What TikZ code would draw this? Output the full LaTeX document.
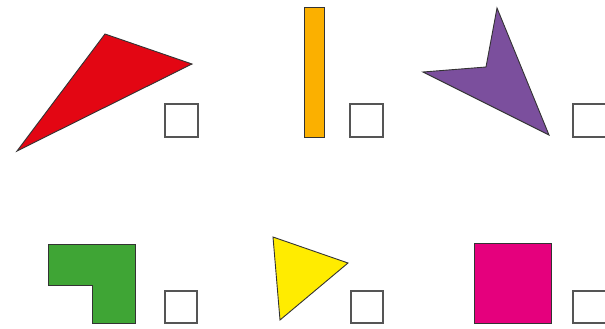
\documentclass[tikz,border=0pt]{standalone}
\definecolor{cred}{HTML}{E30613}
\definecolor{corange}{HTML}{FBB000}
\definecolor{cpurple}{HTML}{7B4F9D}
\definecolor{cgreen}{HTML}{3FA535}
\definecolor{cyellow}{HTML}{FFEC00}
\definecolor{cmagenta}{HTML}{E5007D}
\definecolor{cline}{HTML}{333333}
\definecolor{cbox}{HTML}{555555}
\tikzset{
  shapefill/.style={draw=cline, line width=0.9pt, line join=miter, fill=#1},
  answerbox/.style={draw=cbox, line width=1.3pt, fill=white}
}
\begin{document}
\begin{tikzpicture}[x=1pt,y=-1pt]
\useasboundingbox (0,0) rectangle (605,329);
\begin{scope}
\clip (0,0) rectangle (605,329);
% red triangle
\draw[shapefill=cred] (17,151) -- (105,34) -- (192,64) -- cycle;
\draw[answerbox] (165,104) rectangle (198,137);
% orange bar
\draw[shapefill=corange] (304,7) rectangle (324,137);
\draw[answerbox] (350,104) rectangle (383,137);
% purple arrowhead
\draw[shapefill=cpurple] (497,8) -- (549,135) -- (423,72) -- (486,67) -- cycle;
\draw[answerbox] (573,104) rectangle (606,137);
% green L
\draw[shapefill=cgreen] (48,244) -- (135,244) -- (135,323) -- (92,323) -- (92,285) -- (48,285) -- cycle;
\draw[answerbox] (165,291) rectangle (197,323);
% yellow triangle
\draw[shapefill=cyellow] (273,237) -- (348,263) -- (280,320) -- cycle;
\draw[answerbox] (351,291) rectangle (383,323);
% magenta square
\draw[shapefill=cmagenta] (474,243) rectangle (551,323);
\draw[answerbox] (573,291) rectangle (606,323);
\end{scope}
\end{tikzpicture}
\end{document}
